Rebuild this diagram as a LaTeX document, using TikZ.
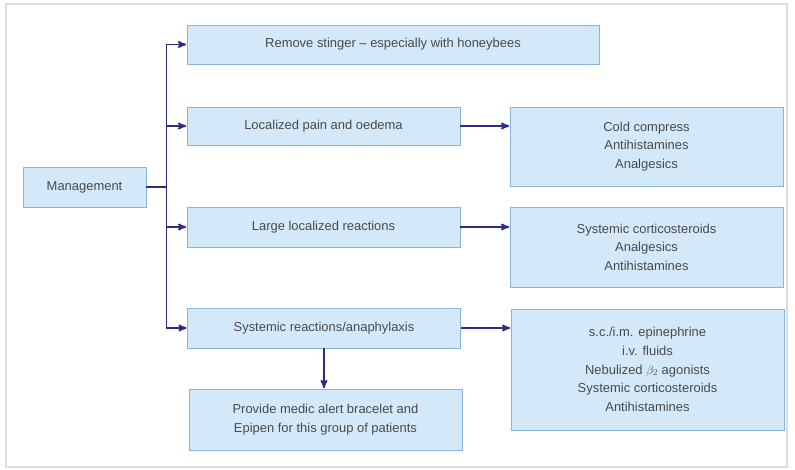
\documentclass[tikz,border=0pt]{standalone}
\usepackage{fontspec}
\setmainfont{Liberation Sans}
\usepackage{amsmath}
\usetikzlibrary{calc,positioning,arrows}

\definecolor{boxfill}{HTML}{D3E8F8}
\definecolor{boxline}{HTML}{86B6DD}
\definecolor{linkblue}{HTML}{2B2D84}
\definecolor{textgray}{HTML}{4A4A4A}
\definecolor{framegray}{HTML}{DCDCDC}

\begin{document}
\begin{tikzpicture}[>=stealth',semithick,
    box/.style={draw=boxline,fill=boxfill,line width=0.8pt,rectangle,align=center,
      text=textgray,font=\fontsize{12.9}{18.5}\selectfont,inner sep=0pt},
    link/.style={draw=linkblue,line width=1.7pt},
    arr/.style={link,->,shorten >=0.5pt}]

    \useasboundingbox (0,0) rectangle (27.825,16.415);
    \draw[framegray,line width=1.2pt] (0.21,0.07) rectangle (27.545,16.275);

    % root
    \node (mgmt) at (2.958,9.87) [box,minimum width=4.305cm,minimum height=1.4cm] {Management};

    % first level
    \node (stinger) at (13.755,14.858) [box,minimum width=14.42cm,minimum height=1.365cm] {Remove stinger -- especially with honeybees};
    \node (pain) at (11.323,12.005) [box,minimum width=9.555cm,minimum height=1.33cm] {Localized pain and oedema};
    \node (large) at (11.323,8.47) [box,minimum width=9.555cm,minimum height=1.4cm] {Large localized reactions};
    \node (sys) at (11.34,4.935) [box,minimum width=9.555cm,minimum height=1.4cm] {Systemic reactions/anaphylaxis};
    \node (alert) at (11.39,1.733) [box,minimum width=9.555cm,minimum height=2.135cm] {Provide medic alert bracelet and\\Epipen for this group of patients};

    % treatments
    \node (coldtx) at (22.628,11.288) [box,minimum width=9.555cm,minimum height=2.765cm] {Cold compress\\Antihistamines\\Analgesics};
    \node (largetx) at (22.628,7.77) [box,minimum width=9.555cm,minimum height=2.8cm] {Systemic corticosteroids\\Analgesics\\Antihistamines};
    \node (systx) at (22.663,3.483) [box,minimum width=9.555cm,minimum height=4.235cm] {s.c./i.m. epinephrine\\i.v. fluids\\Nebulized $\beta_2$ agonists\\Systemic corticosteroids\\Antihistamines};

    % trunk
    \draw[link] (mgmt.east) -- ++(0.7,0) coordinate (trunk);
    \draw[link] (trunk |- stinger.west) -- (trunk |- sys.west);
    \foreach \n in {stinger,pain,large,sys}
      \draw[arr] (trunk |- \n.west) -- (\n.west);

    \draw[arr] (pain.east) -- (pain.east -| coldtx.west);
    \draw[arr] (large.east) -- (large.east -| largetx.west);
    \draw[arr] (sys.east) -- (sys.east -| systx.west);
    \draw[arr] (sys.south) -- (sys.south |- alert.north);

\end{tikzpicture}
\end{document}
